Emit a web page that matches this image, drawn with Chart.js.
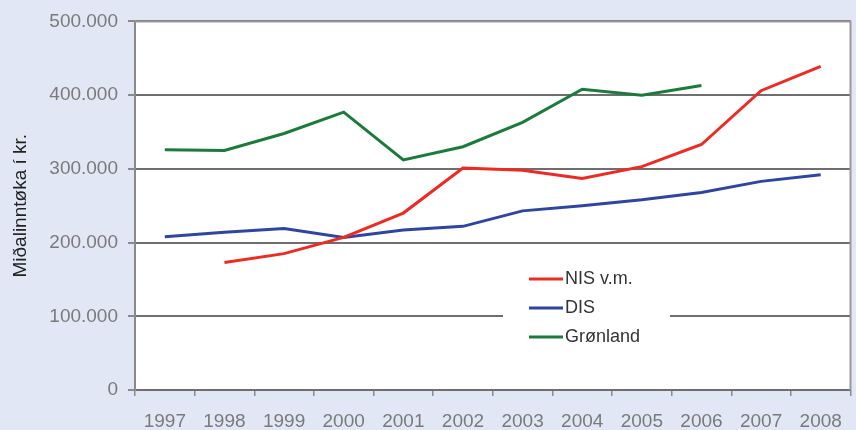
<!DOCTYPE html>
<html>
<head>
<meta charset="utf-8">
<script src="https://cdn.jsdelivr.net/npm/chart.js@4/dist/chart.umd.min.js"></script>
<style>
    body { margin: 0; background: #e1e7f4; }
    canvas { display: block; }
</style>
</head>
<body>
<canvas id="incomeChart" width="856" height="430"></canvas>
<script>
    const years = ['1997', '1998', '1999', '2000', '2001', '2002', '2003', '2004', '2005', '2006', '2007', '2008'];
    const nisValues = [null, 173000, 185000, 207000, 240000, 301000, 298000, 287000, 303000, 333000, 406000, 439000];
    const disValues = [208000, 214000, 219000, 207000, 217000, 222000, 243000, 250000, 258000, 268000, 283000, 292000];
    const gronlandValues = [326000, 325000, 348000, 377000, 312000, 330000, 363000, 408000, 400000, 413000, null, null];
    const yTicks = [0, 100000, 200000, 300000, 400000, 500000];

    const tickFont = { family: 'Liberation Sans', size: 19 };
    const gridGray = '#6e6e6e';

    // White plot area + top/right frame
    const plotBackground = {
        id: 'plotBackground',
        beforeDraw(chart) {
            const { ctx, chartArea: a } = chart;
            ctx.save();
            ctx.fillStyle = '#ffffff';
            ctx.fillRect(a.left, a.top, a.right - a.left, a.bottom - a.top);
            ctx.restore();
        },
        afterDraw(chart) {
            const { ctx, chartArea: a } = chart;
            ctx.save();
            ctx.strokeStyle = '#9a9a9a';
            ctx.lineWidth = 2;
            ctx.beginPath();
            ctx.moveTo(a.left, a.top);
            ctx.lineTo(a.right, a.top);
            ctx.lineTo(a.right, a.bottom);
            ctx.stroke();
            ctx.restore();
        }
    };

    // Legend drawn inside the plot, on a white box
    const innerLegend = {
        id: 'innerLegend',
        afterDatasetsDraw(chart) {
            const ctx = chart.ctx;
            ctx.save();
            ctx.fillStyle = '#ffffff';
            ctx.fillRect(503, 258, 167, 98);
            ctx.font = '18px "Liberation Sans"';
            ctx.textBaseline = 'middle';
            chart.data.datasets.forEach((ds, i) => {
                const y = 279 + i * 29;
                ctx.strokeStyle = ds.borderColor;
                ctx.lineWidth = 3;
                ctx.beginPath();
                ctx.moveTo(529, y);
                ctx.lineTo(563, y);
                ctx.stroke();
                ctx.fillStyle = '#333333';
                ctx.fillText(ds.label, 565, y);
            });
            ctx.restore();
        }
    };

    new Chart(document.getElementById('incomeChart'), {
        type: 'line',
        data: {
            labels: years,
            datasets: [{
                label: 'NIS v.m.',
                data: nisValues,
                borderColor: '#ee2a22',
                borderWidth: 3
            }, {
                label: 'DIS',
                data: disValues,
                borderColor: '#2f45a3',
                borderWidth: 3
            }, {
                label: 'Grønland',
                data: gronlandValues,
                borderColor: '#1b7b3b',
                borderWidth: 3
            }]
        },
        options: {
            responsive: false,
            animation: false,
            layout: { padding: { top: 19, right: 4, left: 0, bottom: 0 } },
            elements: {
                point: { radius: 0 },
                line: { tension: 0 }
            },
            plugins: {
                legend: { display: false },
                tooltip: { enabled: false }
            },
            scales: {
                x: {
                    offset: true,
                    afterFit: s => { s.height = 40; },
                    grid: {
                        offset: true,
                        drawOnChartArea: false,
                        drawTicks: true,
                        tickLength: 6,
                        color: '#8a8a8a',
                        lineWidth: 1.5
                    },
                    border: { display: false },
                    ticks: {
                        font: tickFont,
                        color: '#7a7a7a',
                        padding: 14,
                        maxRotation: 0
                    }
                },
                y: {
                    min: 0,
                    max: 500000,
                    afterFit: s => { s.width = 135; },
                    afterBuildTicks: s => { s.ticks = yTicks.map(v => ({ value: v })); },
                    grid: {
                        color: gridGray,
                        lineWidth: 2,
                        tickLength: 7,
                        tickColor: '#8a8a8a'
                    },
                    border: { color: '#8a8a8a', width: 2 },
                    ticks: {
                        font: tickFont,
                        color: '#7a7a7a',
                        padding: 10,
                        callback: v => String(v).replace(/\B(?=(\d{3})+(?!\d))/g, '.')
                    },
                    title: {
                        display: true,
                        text: 'Miðalinntøka í kr.',
                        color: '#222222',
                        font: { family: 'Liberation Sans', size: 19 },
                        padding: { top: 9, bottom: 0 }
                    }
                }
            }
        },
        plugins: [plotBackground, innerLegend]
    });
</script>
</body>
</html>
